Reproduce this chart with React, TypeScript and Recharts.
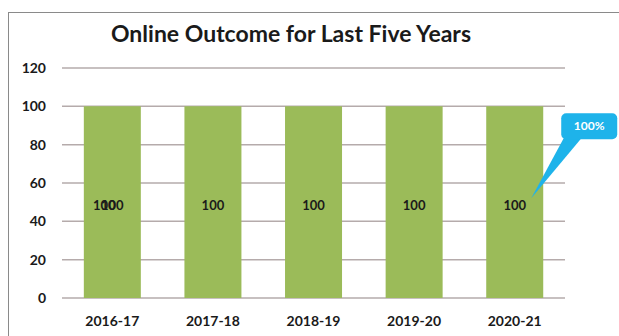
import { BarChart, Bar, XAxis, YAxis, CartesianGrid, LabelList } from "recharts";

const years = ["2016-17", "2017-18", "2018-19", "2019-20", "2020-21"];
const outcome = [100, 100, 100, 100, 100];
const yTicks = [0, 20, 40, 60, 80, 100, 120];
const calloutText = "100%";

const chartData = years.map((year, i) => ({ year, outcome: outcome[i] }));

const FONT = "Lato, 'Open Sans', sans-serif";

function ValueLabel(props: any) {
  const { x, y, width, height, value, index } = props;
  const cx = x + width / 2;
  const cy = y + height / 2 + 5;
  return (
    <g fontFamily={FONT} fontWeight={700} fontSize={13} fill="#1a1a1a">
      {/* the first bar shows a doubled label in the original */}
      {index === 0 && (
        <text x={cx - 8} y={cy} textAnchor="middle" dominantBaseline="middle">
          {value}
        </text>
      )}
      <text x={cx} y={cy} textAnchor="middle" dominantBaseline="middle">
        {value}
      </text>
    </g>
  );
}

function Callout(props: any) {
  const { x, y, width, height, index } = props;
  if (index !== years.length - 1) return null;
  const tipX = x + width - 12;
  const tipY = y + height * 0.48;
  const bx = x + width + 18;
  const by = y + 7;
  const bw = 56;
  const bh = 26;
  return (
    <g>
      <path
        d={`M${bx + 3},${by + bh - 2} L${tipX},${tipY} L${bx + 21},${by + bh - 2} Z`}
        fill="#1eb3ea"
      />
      <rect x={bx} y={by} width={bw} height={bh} rx={5} fill="#1eb3ea" />
      <text
        x={bx + bw / 2}
        y={by + bh / 2 + 1}
        textAnchor="middle"
        dominantBaseline="middle"
        fill="#ffffff"
        fontFamily={FONT}
        fontWeight={700}
        fontSize={12}
      >
        {calloutText}
      </text>
    </g>
  );
}

export default function App() {
  return (
    <div
      style={{
        position: "absolute",
        left: 0,
        top: 0,
        width: 619,
        height: 336,
        background: "#ffffff",
        overflow: "hidden",
      }}
    >
      <div
        style={{
          position: "absolute",
          left: 8,
          top: 12,
          width: 620,
          height: 340,
          borderLeft: "1px solid #8a8a8a",
          borderTop: "1px solid #8a8a8a",
        }}
      />
      <div
        style={{
          position: "absolute",
          left: 0,
          width: 582,
          top: 20,
          textAlign: "center",
          fontFamily: FONT,
          fontWeight: 700,
          fontSize: 23,
          lineHeight: 1.2,
          color: "#1a1a1a",
        }}
      >
        Online Outcome for Last Five Years
      </div>
      <div style={{ position: "absolute", left: 0, top: 0 }}>
        <BarChart
          width={619}
          height={336}
          data={chartData}
          margin={{ top: 68, right: 54, bottom: 0, left: 0 }}
          barCategoryGap="21.7%"
        >
          <CartesianGrid vertical={false} stroke="#b5abab" strokeWidth={1.5} />
          <XAxis
            dataKey="year"
            axisLine={false}
            tickLine={false}
            tickSize={0}
            tickMargin={18}
            height={38}
            tick={{ fontFamily: FONT, fontWeight: 700, fontSize: 14, fill: "#1a1a1a" }}
          />
          <YAxis
            domain={[0, 120]}
            ticks={yTicks}
            axisLine={false}
            tickLine={false}
            tickSize={0}
            tickMargin={16}
            width={62}
            tick={{ fontFamily: FONT, fontWeight: 700, fontSize: 14, fill: "#1a1a1a" }}
          />
          <Bar dataKey="outcome" fill="#9bbb59" isAnimationActive={false}>
            <LabelList dataKey="outcome" content={ValueLabel} />
            <LabelList dataKey="outcome" content={Callout} />
          </Bar>
        </BarChart>
      </div>
    </div>
  );
}
